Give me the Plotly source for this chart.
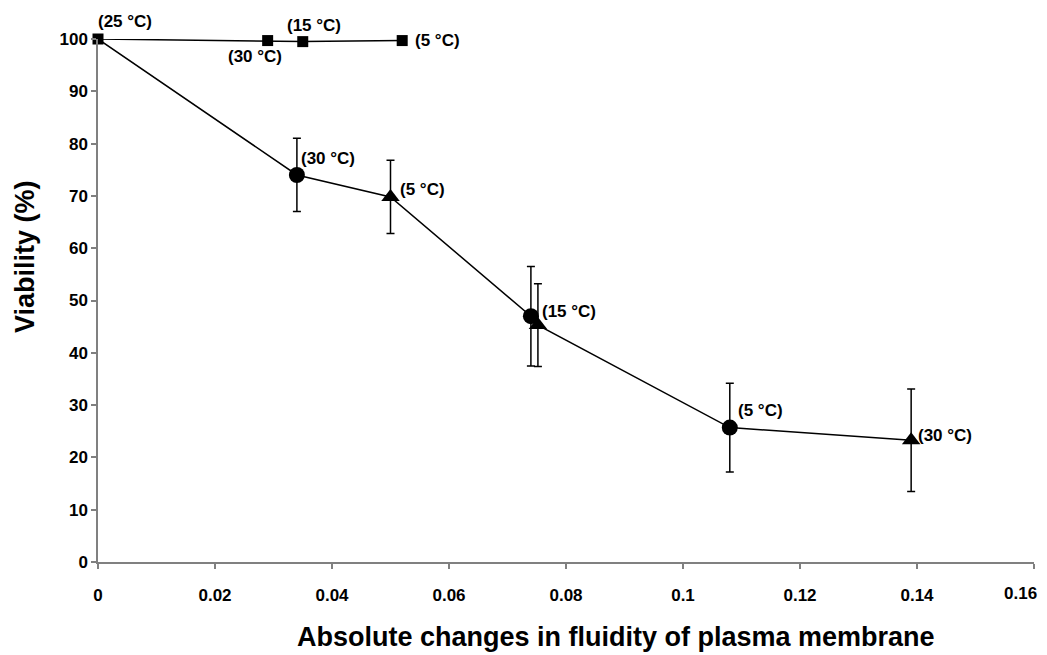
import plotly.graph_objects as go

# ---- data ----
sq_x = [0.0, 0.029, 0.035, 0.052]
sq_y = [100.0, 99.7, 99.5, 99.7]
sq_labels = ["(25 °C)", "(30 °C)", "(15 °C)", "(5 °C)"]

circle_x = [0.034, 0.074, 0.108]
circle_y = [74.0, 47.0, 25.7]
circle_err = [7.0, 9.5, 8.5]
circle_labels = ["(30 °C)", "(15 °C)", "(5 °C)"]

tri_x = [0.050, 0.0752, 0.139]
tri_y = [69.8, 45.3, 23.3]
tri_err = [7.0, 7.9, 9.8]
tri_labels = ["(5 °C)", "", "(30 °C)"]

x_ticks = [0, 0.02, 0.04, 0.06, 0.08, 0.1, 0.12, 0.14, 0.16]
y_ticks = [0, 10, 20, 30, 40, 50, 60, 70, 80, 90, 100]

# label offsets in pixels (left edge, vertical centre) - styling only
sq_shift = [(-2, 18), (-42, -16), (-18, 16), (11, 0)]
circle_shift = [(2, 16), (9, 5), (6, 17)]
tri_shift = [(7, 7), (0, 0), (5, 5)]

FONT = "Liberation Sans, Arial, sans-serif"
TICKFONT = dict(family=FONT, size=17, color="black", weight="bold")

# main line: origin + circles + triangles, ordered by x
main_pts = sorted([(sq_x[0], sq_y[0])] + list(zip(circle_x, circle_y)) + list(zip(tri_x, tri_y)))
main_x = [p[0] for p in main_pts]
main_y = [p[1] for p in main_pts]

fig = go.Figure()

fig.add_trace(go.Scatter(x=main_x, y=main_y, mode="lines",
                         line=dict(color="black", width=1.5), cliponaxis=False,
                         showlegend=False, hoverinfo="skip"))

fig.add_trace(go.Scatter(x=sq_x, y=sq_y, mode="lines+markers",
                         line=dict(color="black", width=1.5),
                         marker=dict(symbol="square", size=11, color="black"),
                         cliponaxis=False, showlegend=False))

fig.add_trace(go.Scatter(x=circle_x, y=circle_y, mode="markers",
                         marker=dict(symbol="circle", size=16, color="black"),
                         error_y=dict(type="data", array=circle_err, color="black",
                                      thickness=1.5, width=4),
                         cliponaxis=False, showlegend=False))

fig.add_trace(go.Scatter(x=tri_x, y=tri_y, mode="markers",
                         marker=dict(symbol="triangle-up", size=16, color="black"),
                         error_y=dict(type="data", array=tri_err, color="black",
                                      thickness=1.5, width=4),
                         cliponaxis=False, showlegend=False))

def add_labels(xs, ys, labels, shifts):
    for x, y, t, (dx, dy) in zip(xs, ys, labels, shifts):
        if not t:
            continue
        fig.add_annotation(x=x, y=y, text=t, showarrow=False, xanchor="left",
                           yanchor="middle", xshift=dx, yshift=dy,
                           font=dict(family=FONT, size=17, color="black", weight="bold"))

add_labels(sq_x, sq_y, sq_labels, sq_shift)
add_labels(circle_x, circle_y, circle_labels, circle_shift)
add_labels(tri_x, tri_y, tri_labels, tri_shift)

# last x tick label, nudged left so it fits in the window (as in the reference)
x_ticktext = [f"{v:g}" for v in x_ticks]
fig.add_annotation(x=x_ticks[-1], xref="x", y=-0.0593, yref="paper",
                   text=x_ticktext[-1], showarrow=False, xanchor="center",
                   yanchor="middle", xshift=-14, font=TICKFONT)
x_ticktext_axis = x_ticktext[:-1] + [""]

fig.add_annotation(text="Absolute changes in fluidity of plasma membrane",
                   xref="paper", yref="paper", x=0.553, y=-0.1434, xanchor="center",
                   yanchor="middle", showarrow=False,
                   font=dict(family=FONT, size=27, color="black", weight="bold"))
fig.add_annotation(text="Viability (%)", xref="paper", yref="paper",
                   x=-0.078, y=0.585, xanchor="center", yanchor="middle",
                   textangle=-90, showarrow=False,
                   font=dict(family=FONT, size=27, color="black", weight="bold"))

fig.update_xaxes(range=[0, 0.16], tickvals=x_ticks, ticktext=x_ticktext_axis,
                 showgrid=False, zeroline=False, showline=True,
                 linecolor="#808080", linewidth=1.5, ticks="outside",
                 tickcolor="#808080", ticklen=5, tickwidth=1.5,
                 tickfont=TICKFONT, ticklabelstandoff=12)
fig.update_yaxes(range=[0, 100], tickvals=y_ticks,
                 showgrid=False, zeroline=False, showline=True,
                 linecolor="#808080", linewidth=1.5, ticks="outside",
                 tickcolor="#808080", ticklen=5, tickwidth=1.5,
                 tickfont=TICKFONT)

# page body has an 8px margin: figure is sized/offset to compensate
fig.update_layout(width=1039, height=647, plot_bgcolor="white", paper_bgcolor="white",
                  margin=dict(l=90, r=13, t=31, b=93, autoexpand=False),
                  showlegend=False)

fig.write_html("out.html")
